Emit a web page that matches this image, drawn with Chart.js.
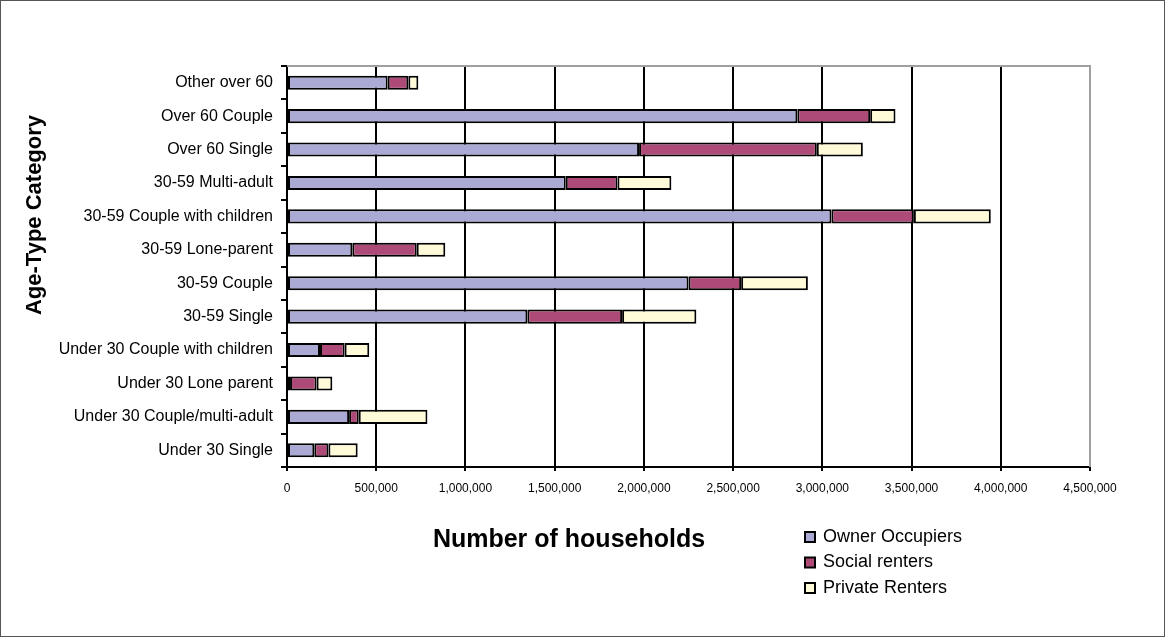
<!DOCTYPE html>
<html>
<head>
<meta charset="utf-8">
<script src="https://cdn.jsdelivr.net/npm/chart.js@4.4.1/dist/chart.umd.min.js"></script>
<style>
  body { margin: 0; background: #fff; }
  #wrap { width: 1165px; height: 637px; }
</style>
</head>
<body>
<div id="wrap"><canvas id="householdsChart" width="1165" height="637"></canvas></div>
<script>
var categorias = ['Other over 60', 'Over 60 Couple', 'Over 60 Single', '30-59 Multi-adult',
    '30-59 Couple with children', '30-59 Lone-parent', '30-59 Couple', '30-59 Single',
    'Under 30 Couple with children', 'Under 30 Lone parent', 'Under 30 Couple/multi-adult', 'Under 30 Single'];
var ownerOccupiers = [564000, 2860000, 1973000, 1562000, 3051000, 366000, 2250000, 1347000, 185000, 17000, 348000, 153000];
var socialRenters  = [116000, 408000, 996000, 290000, 462000, 361000, 295000, 531000, 138000, 149000, 54000, 79000];
var privateRenters = [56000, 142000, 258000, 302000, 431000, 160000, 374000, 416000, 138000, 88000, 385000, 164000];
var xTicks = [0, 500000, 1000000, 1500000, 2000000, 2500000, 3000000, 3500000, 4000000, 4500000];

var font = '"Liberation Sans", Arial, sans-serif';

var extras = {
    id: 'extras',
    beforeDraw: function(chart) {
        var ctx = chart.ctx;
        ctx.save();
        ctx.fillStyle = '#fff';
        ctx.fillRect(0, 0, chart.width, chart.height);
        ctx.restore();
    },
    afterDraw: function(chart) {
        var ctx = chart.ctx;
        var a = chart.chartArea;
        ctx.save();
        // borde gris arriba y a la derecha
        ctx.strokeStyle = '#a0a0a0';
        ctx.lineWidth = 2;
        ctx.beginPath();
        ctx.moveTo(a.left, a.top);
        ctx.lineTo(a.right, a.top);
        ctx.lineTo(a.right, a.bottom);
        ctx.stroke();
        // marco exterior
        ctx.strokeStyle = '#555';
        ctx.lineWidth = 1;
        ctx.strokeRect(0.5, 0.5, chart.width - 1, chart.height - 1);
        // titulos
        ctx.fillStyle = '#000';
        ctx.font = 'bold 25px ' + font;
        ctx.textAlign = 'center';
        ctx.textBaseline = 'middle';
        ctx.fillText('Number of households', 569, 540);
        ctx.translate(35, 215);
        ctx.rotate(-Math.PI / 2);
        ctx.font = 'bold 22px ' + font;
        ctx.fillText('Age-Type Category', 0, 0);
        ctx.restore();
        // leyenda
        ctx.save();
        ctx.font = '18px ' + font;
        ctx.textAlign = 'left';
        ctx.textBaseline = 'middle';
        chart.data.datasets.forEach(function(ds, i) {
            var y = 537 + i * 25.5;
            ctx.fillStyle = ds.backgroundColor;
            ctx.fillRect(805, y - 5, 10, 10);
            ctx.strokeStyle = '#000';
            ctx.lineWidth = 2;
            ctx.strokeRect(805, y - 5, 10, 10);
            ctx.fillStyle = '#000';
            ctx.fillText(ds.label, 823, y);
        });
        ctx.restore();
    }
};

var ctx = document.getElementById('householdsChart').getContext('2d');
var chart = new Chart(ctx, {
    type: 'bar',
    data: {
        labels: categorias,
        datasets: [
            { label: 'Owner Occupiers', data: ownerOccupiers, backgroundColor: '#aaaad5' },
            { label: 'Social renters', data: socialRenters, backgroundColor: '#ad4a78' },
            { label: 'Private Renters', data: privateRenters, backgroundColor: '#fffad8' }
        ]
    },
    options: {
        indexAxis: 'y',
        responsive: false,
        animation: false,
        devicePixelRatio: 1,
        layout: { padding: { top: 66, right: 75, bottom: 0, left: 0 } },
        datasets: {
            bar: {
                borderColor: '#000',
                borderWidth: 2,
                borderSkipped: false,
                categoryPercentage: 1,
                barPercentage: 0.42
            }
        },
        plugins: {
            legend: { display: false },
            tooltip: { enabled: false }
        },
        scales: {
            x: {
                stacked: true,
                min: 0,
                max: 4500000,
                afterFit: function(scale) { scale.height = 170; },
                afterBuildTicks: function(scale) {
                    scale.ticks = xTicks.map(function(v) { return { value: v }; });
                },
                ticks: {
                    color: '#000',
                    font: { family: font, size: 12 },
                    padding: 10,
                    maxRotation: 0,
                    callback: function(v) { return Number(v).toLocaleString('en-US'); }
                },
                grid: {
                    color: function(c) { return c.index === xTicks.length - 1 ? '#a0a0a0' : '#000'; },
                    lineWidth: 2,
                    tickLength: 4,
                    tickColor: '#000'
                },
                border: { color: '#000', width: 2 }
            },
            y: {
                stacked: true,
                afterFit: function(scale) { scale.width = 287; },
                ticks: {
                    color: '#000',
                    font: { family: font, size: 16 },
                    padding: 8
                },
                grid: {
                    offset: true,
                    drawOnChartArea: false,
                    drawTicks: true,
                    tickLength: 6,
                    color: '#000',
                    lineWidth: 2
                },
                border: { color: '#000', width: 2 }
            }
        }
    },
    plugins: [extras]
});
</script>
</body>
</html>
